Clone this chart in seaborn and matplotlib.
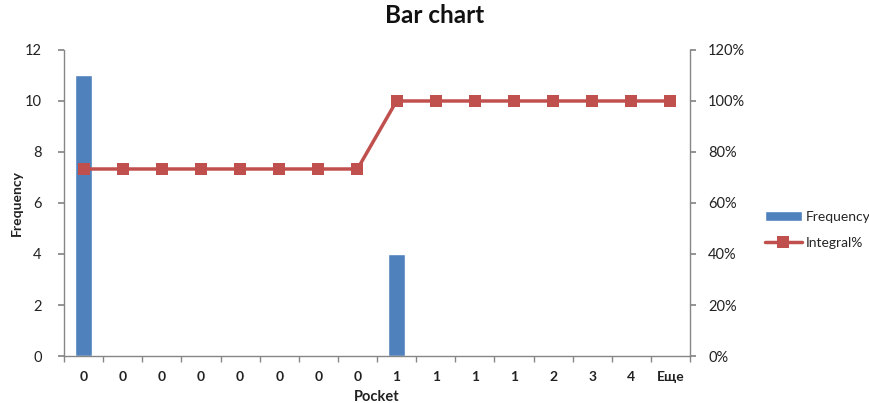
import numpy as np
import pandas as pd
import matplotlib
matplotlib.use("Agg")
import matplotlib.pyplot as plt
import seaborn as sns
from matplotlib.ticker import FixedLocator, FuncFormatter

# Histogram bins (pocket labels), frequencies and cumulative percentage
pockets = ["0", "0", "0", "0", "0", "0", "0", "0", "1", "1", "1", "1", "2", "3", "4", "Еще"]
frequency = [11, 0, 0, 0, 0, 0, 0, 0, 4, 0, 0, 0, 0, 0, 0, 0]
integral_pct = [73.33, 73.33, 73.33, 73.33, 73.33, 73.33, 73.33, 73.33,
                100, 100, 100, 100, 100, 100, 100, 100]

df = pd.DataFrame({
    "pos": np.arange(len(pockets)),
    "pocket": pockets,
    "Frequency": frequency,
    "Integral%": integral_pct,
})

sns.set_theme(style="white")
plt.rcParams["font.family"] = ["Lato", "DejaVu Sans"]

bar_color = "#4F81BD"
line_color = "#C0504D"
axis_color = "#868686"
text_color = "#222222"

fig = plt.figure(figsize=(8.7, 4.03), dpi=100)
ax = fig.add_axes([0.0736, 0.1166, 0.7195, 0.7594])

sns.barplot(data=df, x="pos", y="Frequency", color=bar_color, width=0.42,
            saturation=1, ax=ax, label="Frequency")
ax.set_xlim(-0.5, len(pockets) - 0.5)
ax.set_ylim(0, 12)
ax.set_yticks(range(0, 13, 2))

ax2 = ax.twinx()
sns.lineplot(data=df, x="pos", y="Integral%", color=line_color, linewidth=2.5,
             marker="s", markersize=8, markeredgewidth=0, ax=ax2, label="Integral%")
ax2.set_ylim(0, 120)
ax2.set_yticks(range(0, 121, 20))
ax2.yaxis.set_major_formatter(FuncFormatter(lambda v, _: f"{int(v)}%"))
ax2.set_xlim(-0.5, len(pockets) - 0.5)
ax2.set_ylabel("")

# Category labels centred, tick marks between categories
ax.set_xticks(df["pos"])
ax.set_xticklabels(pockets, fontweight="bold", fontsize=10, color=text_color)
ax.xaxis.set_minor_locator(FixedLocator(np.arange(-0.5, len(pockets), 1.0)))
ax.tick_params(axis="x", which="major", length=0, pad=11)
ax.tick_params(axis="x", which="minor", length=4, color=axis_color, direction="out", bottom=True)
ax.tick_params(axis="y", length=4, color=axis_color, direction="out", left=True,
               labelsize=10.5, labelcolor=text_color, pad=12)
ax2.tick_params(axis="y", length=4, color=axis_color, direction="out", right=True,
                labelsize=10.5, labelcolor=text_color, pad=9)

for a in (ax, ax2):
    a.spines["top"].set_visible(False)
    for side in ("left", "right", "bottom"):
        a.spines[side].set_color(axis_color)
        a.spines[side].set_linewidth(1.0)
ax.spines["right"].set_visible(False)
ax2.spines["left"].set_visible(False)
ax2.spines["bottom"].set_visible(False)

ax.set_xlabel("Pocket", fontweight="bold", fontsize=10.5, color=text_color, labelpad=5)
ax.set_ylabel("Frequency", fontweight="bold", fontsize=10, color=text_color)
ax.yaxis.set_label_coords(-0.066, 0.5)

fig.suptitle("Bar chart", fontweight="bold", fontsize=17.5, x=0.5, y=0.99, color="#111111")

# Combined legend to the right of the plot area
h1, l1 = ax.get_legend_handles_labels()
h2, l2 = ax2.get_legend_handles_labels()
if ax.get_legend():
    ax.get_legend().remove()
if ax2.get_legend():
    ax2.get_legend().remove()
fig.legend(h1 + h2, l1 + l2, loc="center left", bbox_to_anchor=(0.879, 0.43),
           frameon=False, fontsize=10, handlelength=2.7, handletextpad=0.25,
           labelspacing=1.0, borderaxespad=0, borderpad=0)

fig.savefig("out.png", dpi=100)
